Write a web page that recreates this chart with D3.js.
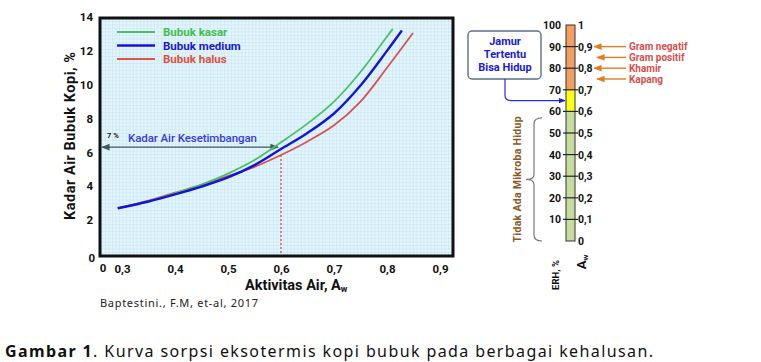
<!DOCTYPE html>
<html>
<head>
<meta charset="utf-8">
<script src="https://cdn.jsdelivr.net/npm/d3@7"></script>
<style>
  body { margin: 0; background: #fff; }
  text { font-family: Roboto, "Noto Sans", sans-serif; }
</style>
</head>
<body>
<svg id="chart" width="761" height="362"></svg>
<script>
// sorption curves
const awKasar = [0.292, 0.35, 0.4, 0.45, 0.5, 0.55, 0.6, 0.65, 0.7, 0.75, 0.8, 0.811];
const mcKasar = [2.7, 3.12, 3.58, 4.1, 4.75, 5.55, 6.6, 7.7, 9.0, 10.75, 12.85, 13.3];
const awMedium = [0.292, 0.35, 0.4, 0.45, 0.5, 0.55, 0.6, 0.65, 0.7, 0.75, 0.8, 0.828];
const mcMedium = [2.7, 3.1, 3.52, 3.98, 4.52, 5.25, 6.2, 7.15, 8.3, 9.95, 12.0, 13.2];
const awHalus = [0.292, 0.35, 0.4, 0.45, 0.5, 0.55, 0.6, 0.65, 0.7, 0.75, 0.8, 0.849];
const mcHalus = [2.7, 3.15, 3.62, 4.08, 4.6, 5.15, 5.85, 6.65, 7.6, 9.0, 11.0, 13.05];

const seriesNames = ["Bubuk kasar", "Bubuk medium", "Bubuk halus"];
const seriesColors = ["#4cc068", "#1414d6", "#d9534f"];
const legendColors = ["#3fc04e", "#1a1ad0", "#e0503c"];

const xTicks = [0.3, 0.4, 0.5, 0.6, 0.7, 0.8, 0.9];
const yTicks = [2, 4, 6, 8, 10, 12, 14];

// water activity scale on the right
const erhTicks = [0, 10, 20, 30, 40, 50, 60, 70, 80, 90, 100];
const awTickLabels = ["0", "0,1", "0,2", "0,3", "0,4", "0,5", "0,6", "0,7", "0,8", "0,9", "1"];
const bands = [
  { from: 0, to: 60, color: "#c9dca0" },
  { from: 60, to: 70, color: "#ffff14" },
  { from: 70, to: 100, color: "#f2a062" }
];
const microbes = [
  { name: "Gram negatif", erh: 90 },
  { name: "Gram positif", erh: 85 },
  { name: "Khamir", erh: 80 },
  { name: "Kapang", erh: 75 }
];
const keyAw = 0.6;
const keyMc = 6.25;

const svg = d3.select("#chart");
const fmt = d => d3.format(".1f")(d).replace(".", ",");

// ---- left chart ----
const x = d3.scaleLinear().domain([0.6, 0.7]).range([281, 334]);
const y = d3.scaleLinear().domain([0, 14]).range([254, 17]);
const frame = { x0: 100, x1: 453, y0: 18, y1: 256 };

const defs = svg.append("defs");
const pat = defs.append("pattern").attr("id", "grid").attr("patternUnits", "userSpaceOnUse")
  .attr("width", 3.5).attr("height", 3.5);
pat.append("rect").attr("width", 3.5).attr("height", 3.5).attr("fill", "#e4f5fc");
pat.append("path").attr("d", "M0,0.3H3.5M0.3,0V3.5").attr("stroke", "#c6e6f4").attr("stroke-width", 0.7);

defs.append("marker").attr("id", "arrGray").attr("viewBox", "0 0 10 10").attr("refX", 9).attr("refY", 5)
  .attr("markerWidth", 7).attr("markerHeight", 7).attr("orient", "auto-start-reverse")
  .append("path").attr("d", "M0,1L10,5L0,9z").attr("fill", "#3c5a5a");
defs.append("marker").attr("id", "arrBlue").attr("viewBox", "0 0 10 10").attr("refX", 9).attr("refY", 5)
  .attr("markerWidth", 6).attr("markerHeight", 6).attr("orient", "auto")
  .append("path").attr("d", "M0,1L10,5L0,9z").attr("fill", "#1a1ad8");
defs.append("marker").attr("id", "arrOrange").attr("viewBox", "0 0 10 10").attr("refX", 9).attr("refY", 5)
  .attr("markerWidth", 6).attr("markerHeight", 6).attr("orient", "auto")
  .append("path").attr("d", "M0,1L10,5L0,9z").attr("fill", "#e07c22");

svg.append("rect").attr("x", frame.x0).attr("y", frame.y0)
  .attr("width", frame.x1 - frame.x0).attr("height", frame.y1 - frame.y0)
  .attr("fill", "url(#grid)");

// red dashed line at aw 0.6
svg.append("line").attr("x1", x(keyAw)).attr("x2", x(keyAw))
  .attr("y1", y(5.85)).attr("y2", frame.y1)
  .attr("stroke", "#e04848").attr("stroke-width", 1.3).attr("stroke-dasharray", "2,2");

// equilibrium arrow
svg.append("line").attr("x1", x(keyAw) - 3).attr("x2", frame.x0 + 2)
  .attr("y1", y(keyMc) - 1).attr("y2", y(keyMc) - 1)
  .attr("stroke", "#3c5a5a").attr("stroke-width", 1.2)
  .attr("marker-end", "url(#arrGray)").attr("marker-start", "url(#arrGray)");

svg.append("text").attr("x", 107).attr("y", 138).attr("font-size", 7.5).attr("font-weight", "bold")
  .attr("fill", "#222").text("7 %");
svg.append("text").attr("x", 128).attr("y", 142).attr("font-size", 11.5).attr("font-weight", 500)
  .attr("fill", "#3a3ae4").attr("textLength", 129).attr("lengthAdjust", "spacing")
  .text("Kadar Air Kesetimbangan");

const line = d3.line().x(d => x(d[0])).y(d => y(d[1])).curve(d3.curveCatmullRom.alpha(0.5));
const series = [
  { aw: awKasar, mc: mcKasar, w: 1.8 },
  { aw: awMedium, mc: mcMedium, w: 2.4 },
  { aw: awHalus, mc: mcHalus, w: 1.8 }
];
// draw halus, kasar, then medium on top
[2, 0, 1].forEach(i => {
  const s = series[i];
  svg.append("path").datum(s.aw.map((a, k) => [a, s.mc[k]]))
    .attr("d", line).attr("fill", "none")
    .attr("stroke", seriesColors[i]).attr("stroke-width", s.w);
});

// legend
seriesNames.forEach((n, i) => {
  const ly = 32 + i * 13.5;
  svg.append("line").attr("x1", 117).attr("x2", 155).attr("y1", ly).attr("y2", ly)
    .attr("stroke", seriesColors[i]).attr("stroke-width", i === 1 ? 2.6 : 2);
  svg.append("text").attr("x", 163).attr("y", ly + 4).attr("font-size", 11.5).attr("font-weight", "bold")
    .attr("fill", legendColors[i]).text(n);
});

svg.append("rect").attr("x", frame.x0).attr("y", frame.y0)
  .attr("width", frame.x1 - frame.x0).attr("height", frame.y1 - frame.y0)
  .attr("fill", "none").attr("stroke", "#111").attr("stroke-width", 3);

// axes
const xAxis = svg.append("g").attr("transform", `translate(0,${frame.y1 + 1})`)
  .call(d3.axisBottom(x).tickValues(xTicks).tickFormat(fmt).tickSize(0).tickPadding(8));
const yAxis = svg.append("g").attr("transform", `translate(${frame.x0 - 1},0)`)
  .call(d3.axisLeft(y).tickValues(yTicks).tickFormat(d3.format("d")).tickSize(0).tickPadding(6));
[xAxis, yAxis].forEach(g => {
  g.select(".domain").remove();
  g.selectAll("text").attr("font-size", 11.5).attr("font-weight", "bold").attr("fill", "#111")
    .style("font-family", "Roboto, sans-serif");
});
// broken axis origin
svg.append("text").attr("x", 95).attr("y", 262).attr("text-anchor", "end").attr("font-size", 11.5)
  .attr("font-weight", "bold").attr("fill", "#111").text("0");
svg.append("text").attr("x", 103).attr("y", 272).attr("text-anchor", "middle").attr("font-size", 11.5)
  .attr("font-weight", "bold").attr("fill", "#111").text("0");

// titles
const xt = svg.append("text").attr("x", 245).attr("y", 290).attr("font-size", 14.5)
  .attr("font-weight", "bold").attr("fill", "#111");
xt.append("tspan").text("Aktivitas Air, A");
xt.append("tspan").attr("font-size", 9).attr("dy", 2).text("w");

svg.append("text").attr("transform", "translate(75,136) rotate(-90)").attr("text-anchor", "middle")
  .attr("font-size", 14.5).attr("font-weight", "bold").attr("fill", "#111")
  .attr("textLength", 168).attr("lengthAdjust", "spacing")
  .text("Kadar Air Bubuk Kopi, %");

svg.append("text").attr("x", 100).attr("y", 307).attr("font-size", 11).attr("fill", "#222")
  .style("font-family", "'Noto Sans', sans-serif")
  .attr("textLength", 158).attr("lengthAdjust", "spacing")
  .text("Baptestini., F.M, et-al, 2017");

// ---- right scale ----
const e = d3.scaleLinear().domain([0, 100]).range([241, 25]);
const bx0 = 566, bx1 = 575;

bands.forEach(b => {
  svg.append("rect").attr("x", bx0).attr("y", e(b.to)).attr("width", bx1 - bx0)
    .attr("height", e(b.from) - e(b.to)).attr("fill", b.color);
});
svg.append("rect").attr("x", bx0).attr("y", e(100)).attr("width", bx1 - bx0)
  .attr("height", e(0) - e(100)).attr("fill", "none").attr("stroke", "#333").attr("stroke-width", 1);

erhTicks.forEach((t, i) => {
  if (t > 0 && t < 100) {
    svg.append("line").attr("x1", bx0 - 3).attr("x2", bx1 + 3).attr("y1", e(t)).attr("y2", e(t))
      .attr("stroke", "#222").attr("stroke-width", 1.2);
  }
  if (t > 0) {
    svg.append("text").attr("x", 561).attr("y", e(t) + 4).attr("text-anchor", "end")
      .attr("font-size", 10.5).attr("font-weight", "bold").attr("fill", "#111").text(t);
  }
  svg.append("text").attr("x", 578).attr("y", e(t) + 4).attr("font-size", 10.5)
    .attr("font-weight", "bold").attr("fill", "#111").text(awTickLabels[i]);
});

microbes.forEach(m => {
  const headX = m.erh % 10 === 0 ? 594 : 597;
  svg.append("line").attr("x1", 626).attr("x2", headX).attr("y1", e(m.erh)).attr("y2", e(m.erh))
    .attr("stroke", "#e07c22").attr("stroke-width", 1.4).attr("marker-end", "url(#arrOrange)");
  svg.append("text").attr("x", 629).attr("y", e(m.erh) + 3.5).attr("font-size", 10)
    .attr("font-weight", "bold").attr("fill", "#d4504c").text(m.name);
});

// "Jamur Tertentu Bisa Hidup" box
svg.append("rect").attr("x", 468).attr("y", 31).attr("width", 73).attr("height", 48).attr("rx", 4)
  .attr("fill", "#fff").attr("stroke", "#5a7282").attr("stroke-width", 1.4);
["Jamur", "Tertentu", "Bisa Hidup"].forEach((t, i) => {
  svg.append("text").attr("x", 505).attr("y", 45 + i * 13).attr("text-anchor", "middle")
    .attr("font-size", 11).attr("font-weight", "bold").attr("fill", "#1a1ad8").text(t);
});
const ay = e(65);
svg.append("path").attr("d", `M505,79V${ay - 5}Q505,${ay} 511,${ay}H${bx0 - 1}`)
  .attr("fill", "none").attr("stroke", "#2a2ae0").attr("stroke-width", 1.2)
  .attr("marker-end", "url(#arrBlue)");

// brace for 0-60
const bt = e(57), bb = e(0), bm = (bt + bb) / 2;
svg.append("path")
  .attr("d", `M542,${bt}Q534,${bt} 534,${bt + 6}V${bm - 5}Q534,${bm} 526,${bm}` +
    `Q534,${bm} 534,${bm + 5}V${bb - 6}Q534,${bb} 542,${bb}`)
  .attr("fill", "none").attr("stroke", "#777").attr("stroke-width", 1.2);
svg.append("text").attr("transform", `translate(521,${bm}) rotate(-90)`).attr("text-anchor", "middle")
  .attr("font-size", 10.5).attr("font-weight", "bold").attr("fill", "#8b5a1e")
  .attr("textLength", 126).attr("lengthAdjust", "spacing")
  .text("Tidak Ada Mikroba Hidup");

svg.append("text").attr("transform", "translate(559,275) rotate(-90)").attr("text-anchor", "middle")
  .attr("font-size", 9.5).attr("font-weight", "bold").attr("fill", "#111").text("ERH, %");
const awl = svg.append("text").attr("transform", "translate(586,262) rotate(-90)").attr("text-anchor", "middle")
  .attr("font-size", 13).attr("font-weight", "bold").attr("fill", "#111");
awl.append("tspan").text("A");
awl.append("tspan").attr("font-size", 8).attr("dy", 2).text("w");

// caption
const cap = svg.append("text").attr("x", 5).attr("y", 357).attr("font-size", 16).attr("fill", "#111")
  .style("font-family", "'Noto Sans', sans-serif")
  .attr("textLength", 648).attr("lengthAdjust", "spacing");
cap.append("tspan").attr("font-weight", "bold").text("Gambar 1");
cap.append("tspan").text(". Kurva sorpsi eksotermis kopi bubuk pada berbagai kehalusan.");
</script>
</body>
</html>
